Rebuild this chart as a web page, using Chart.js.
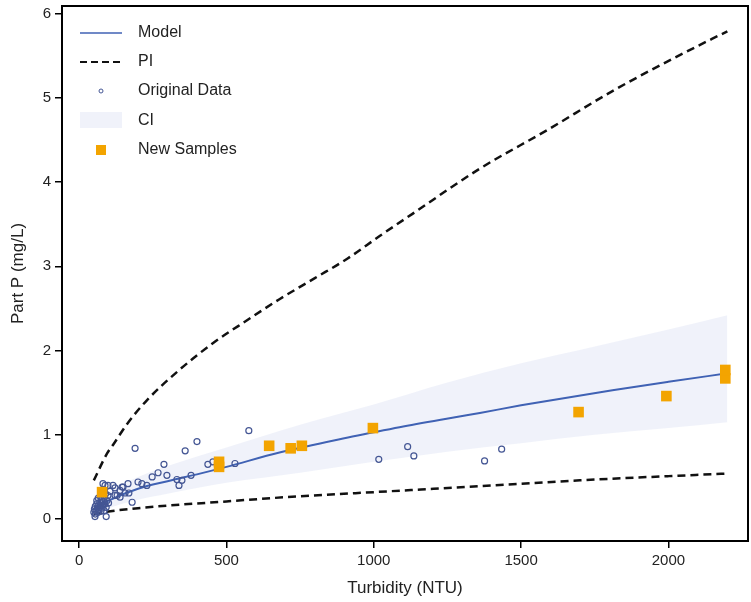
<!DOCTYPE html>
<html>
<head>
<meta charset="utf-8">
<script src="https://cdn.jsdelivr.net/npm/chart.js@4.4.1/dist/chart.umd.min.js"></script>
<style>
    html, body { margin: 0; padding: 0; background: #fff; }
    #wrap { width: 751px; height: 602px; }
</style>
</head>
<body>
<div id="wrap"><canvas id="chart" width="751" height="602"></canvas></div>
<script>
// Dane
const xTicks = [0, 500, 1000, 1500, 2000];
const yTicks = [0, 1, 2, 3, 4, 5, 6];

// Krzywa modelu
const modelX = [50, 100, 200, 300, 410, 500, 680, 900, 1000, 1100, 1360, 1500, 1810, 2000, 2200];
const modelY = [0.12, 0.22, 0.36, 0.45, 0.54, 0.62, 0.79, 0.96, 1.03, 1.10, 1.26, 1.35, 1.53, 1.63, 1.73];

// Przedzial predykcji (PI)
const piUpperX = [50, 95, 115, 163, 230, 340, 455, 570, 680, 800, 910, 1020, 1130, 1360, 1590, 1810, 2040, 2200];
const piUpperY = [0.46, 0.78, 0.88, 1.13, 1.41, 1.77, 2.09, 2.36, 2.61, 2.86, 3.09, 3.36, 3.62, 4.16, 4.62, 5.08, 5.51, 5.79];
const piLowerX = [50, 100, 200, 300, 500, 700, 1000, 1360, 1700, 2000, 2200];
const piLowerY = [0.06, 0.09, 0.13, 0.16, 0.21, 0.26, 0.32, 0.39, 0.46, 0.51, 0.54];

// Przedzial ufnosci (CI)
const ciX = [50, 100, 200, 300, 500, 750, 1000, 1250, 1500, 1750, 2000, 2200];
const ciUpper = [0.19, 0.32, 0.50, 0.63, 0.85, 1.12, 1.36, 1.62, 1.85, 2.05, 2.25, 2.42];
const ciLower = [0.06, 0.13, 0.23, 0.30, 0.43, 0.55, 0.68, 0.80, 0.90, 1.00, 1.08, 1.15];

// Dane oryginalne
const origX = [50, 52, 55, 55, 58, 60, 60, 62, 64, 65, 66, 68, 70, 70, 72, 74, 75, 76, 78, 80,
    82, 85, 86, 88, 90, 92, 95, 98, 100, 105,
    54, 92, 81, 88, 98, 115, 122, 122, 129, 139, 139, 146, 149, 156, 166, 169, 180, 190, 200, 213,
    230, 248, 268, 288, 298, 332, 339, 349, 360, 380, 400, 437, 454, 529, 576,
    1017, 1115, 1136, 1376, 1434];
const origY = [0.08, 0.12, 0.15, 0.06, 0.10, 0.18, 0.22, 0.13, 0.08, 0.25, 0.16, 0.11, 0.20, 0.14, 0.27, 0.09, 0.18, 0.23, 0.13, 0.16,
    0.21, 0.10, 0.26, 0.18, 0.30, 0.14, 0.22, 0.28, 0.19, 0.33,
    0.03, 0.03, 0.42, 0.40, 0.40, 0.40, 0.37, 0.28, 0.28, 0.34, 0.26, 0.38, 0.38, 0.31, 0.42, 0.31, 0.20, 0.84, 0.44, 0.42,
    0.40, 0.50, 0.55, 0.65, 0.52, 0.47, 0.40, 0.46, 0.81, 0.52, 0.92, 0.65, 0.68, 0.66, 1.05,
    0.71, 0.86, 0.75, 0.69, 0.83];

// Nowe probki
const newX = [78, 475, 475, 645, 718, 756, 997, 1695, 1993, 2193, 2193];
const newY = [0.32, 0.62, 0.68, 0.87, 0.84, 0.87, 1.08, 1.27, 1.46, 1.67, 1.77];

const legendItems = ['Model', 'PI', 'Original Data', 'CI', 'New Samples'];

const BLUE = '#4062b4';
const CIRCLE = '#445694';
const ORANGE = '#f3a400';
const BAND = 'rgba(205, 212, 240, 0.3)';
const FONT = '"Liberation Sans", Arial, sans-serif';

function toPoints(xs, ys) {
    return xs.map((x, i) => ({ x: x, y: ys[i] }));
}

// Ramka i legenda
const framePlugin = {
    id: 'frame',
    afterDraw(chart) {
        const ctx = chart.ctx;
        const a = chart.chartArea;
        ctx.save();
        ctx.strokeStyle = '#000';
        ctx.lineWidth = 2;
        ctx.strokeRect(a.left, a.top, a.right - a.left, a.bottom - a.top);

        const x0 = a.left + 18;
        const x1 = a.left + 60;
        const tx = a.left + 76;
        const rowY = [33, 62, 91, 121, 150];
        ctx.font = '16px ' + FONT;
        ctx.fillStyle = '#222';
        ctx.textBaseline = 'middle';
        legendItems.forEach((label, i) => {
            const y = rowY[i];
            if (i === 0) {
                ctx.strokeStyle = BLUE; ctx.lineWidth = 1.5; ctx.setLineDash([]);
                ctx.beginPath(); ctx.moveTo(x0, y); ctx.lineTo(x1, y); ctx.stroke();
            } else if (i === 1) {
                ctx.strokeStyle = '#111'; ctx.lineWidth = 2; ctx.setLineDash([7, 4]);
                ctx.beginPath(); ctx.moveTo(x0, y); ctx.lineTo(x1, y); ctx.stroke();
                ctx.setLineDash([]);
            } else if (i === 2) {
                ctx.strokeStyle = CIRCLE; ctx.lineWidth = 1;
                ctx.beginPath(); ctx.arc((x0 + x1) / 2, y, 2, 0, Math.PI * 2); ctx.stroke();
            } else if (i === 3) {
                ctx.fillStyle = BAND;
                ctx.fillRect(x0, y - 9, x1 - x0, 16);
                ctx.fillStyle = '#222';
            } else {
                ctx.fillStyle = ORANGE;
                ctx.fillRect((x0 + x1) / 2 - 5, y - 5, 10, 10);
                ctx.fillStyle = '#222';
            }
            ctx.fillText(label, tx, y);
        });
        ctx.restore();
    }
};

new Chart(document.getElementById('chart').getContext('2d'), {
    type: 'scatter',
    data: {
        datasets: [
            {
                label: 'CI upper',
                type: 'line',
                data: toPoints(ciX, ciUpper),
                borderWidth: 0,
                pointRadius: 0,
                fill: false,
                cubicInterpolationMode: 'monotone',
                order: 5
            },
            {
                label: 'CI',
                type: 'line',
                data: toPoints(ciX, ciLower),
                borderWidth: 0,
                pointRadius: 0,
                backgroundColor: BAND,
                fill: '-1',
                cubicInterpolationMode: 'monotone',
                order: 5
            },
            {
                label: 'PI upper',
                type: 'line',
                data: toPoints(piUpperX, piUpperY),
                borderColor: '#111',
                borderWidth: 2.5,
                borderDash: [8, 5],
                pointRadius: 0,
                fill: false,
                cubicInterpolationMode: 'monotone',
                order: 3
            },
            {
                label: 'PI lower',
                type: 'line',
                data: toPoints(piLowerX, piLowerY),
                borderColor: '#111',
                borderWidth: 2.5,
                borderDash: [8, 5],
                pointRadius: 0,
                fill: false,
                cubicInterpolationMode: 'monotone',
                order: 3
            },
            {
                label: 'Model',
                type: 'line',
                data: toPoints(modelX, modelY),
                borderColor: BLUE,
                borderWidth: 2,
                pointRadius: 0,
                fill: false,
                cubicInterpolationMode: 'monotone',
                order: 2
            },
            {
                label: 'Original Data',
                data: toPoints(origX, origY),
                pointStyle: 'circle',
                pointRadius: 3,
                borderColor: CIRCLE,
                backgroundColor: 'rgba(255,255,255,0)',
                borderWidth: 1.2,
                order: 1
            },
            {
                label: 'New Samples',
                data: toPoints(newX, newY),
                pointStyle: 'rect',
                pointRadius: 7.5,
                borderWidth: 0,
                backgroundColor: ORANGE,
                borderColor: ORANGE,
                order: 0
            }
        ]
    },
    options: {
        responsive: false,
        animation: false,
        events: [],
        layout: { autoPadding: false, padding: { top: 6, right: 3, left: 0, bottom: 0 } },
        plugins: {
            legend: { display: false },
            tooltip: { enabled: false }
        },
        scales: {
            x: {
                type: 'linear',
                min: -58,
                max: 2270,
                afterBuildTicks: scale => { scale.ticks = xTicks.map(v => ({ value: v })); },
                afterFit: scale => { scale.height = 61; scale.paddingLeft = 0; scale.paddingRight = 0; },
                grid: { display: true, drawOnChartArea: false, drawTicks: true, tickLength: 7, color: '#000', lineWidth: 1.5 },
                border: { display: true, color: '#000', width: 2 },
                ticks: { color: '#222', font: { family: FONT, size: 15 }, padding: 4, maxRotation: 0, callback: v => String(v) },
                title: { display: true, text: 'Turbidity (NTU)', color: '#222', font: { family: FONT, size: 17 }, padding: { top: 2, bottom: 3 } }
            },
            y: {
                type: 'linear',
                min: -0.26,
                max: 6.09,
                afterBuildTicks: scale => { scale.ticks = yTicks.map(v => ({ value: v })); },
                afterFit: scale => { scale.width = 62; scale.paddingTop = 0; scale.paddingBottom = 0; },
                grid: { display: true, drawOnChartArea: false, drawTicks: true, tickLength: 7, color: '#000', lineWidth: 1.5 },
                border: { display: true, color: '#000', width: 2 },
                ticks: { color: '#222', font: { family: FONT, size: 15 }, padding: 4, callback: v => String(v) },
                title: { display: true, text: 'Part P (mg/L)', color: '#222', font: { family: FONT, size: 17 }, padding: { top: 8, bottom: 2 } }
            }
        }
    },
    plugins: [framePlugin]
});
</script>
</body>
</html>
